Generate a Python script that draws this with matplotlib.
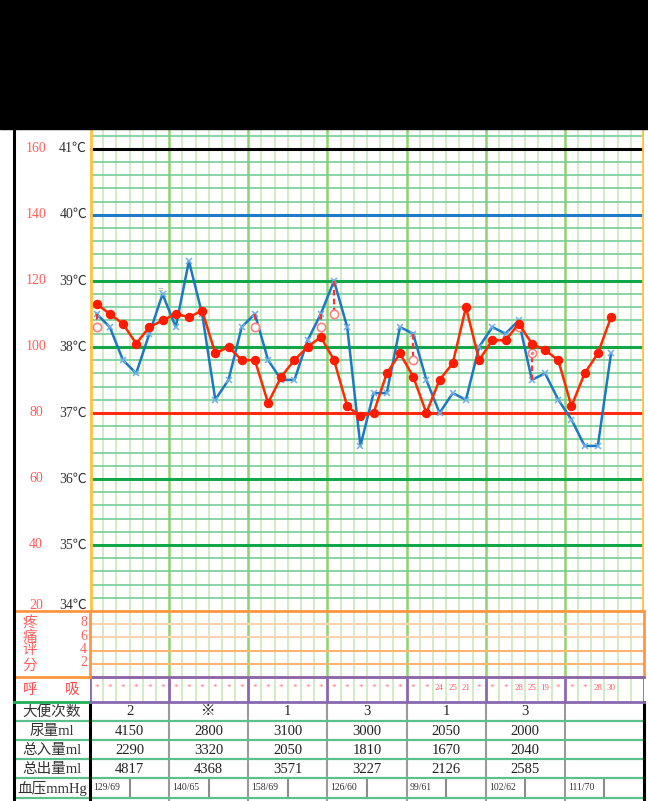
import numpy as np
import matplotlib.pyplot as plt
from matplotlib.lines import Line2D
from matplotlib.patches import Rectangle
import matplotlib.transforms as mtransforms

W, H = 648, 801
FONT = ['Liberation Serif', 'Noto Sans CJK SC', 'DejaVu Sans']
plt.rcParams['font.family'] = FONT

# ---- data ----
days = 7
cols_per_day = 6
temp = [38.5, 38.3, 37.8, 37.6, 38.2, 38.8, 38.3, 39.3, 38.5, 37.2, 37.5, 38.3, 38.5, 37.8,
        37.5, 37.5, 38.1, 38.5, 39.0, 38.3, 36.5, 37.3, 37.3, 38.3, 38.2, 37.5, 37.0, 37.3,
        37.2, 38.0, 38.3, 38.2, 38.4, 37.5, 37.6, 37.2, 36.9, 36.5, 36.5, 37.9]
pulse = [113, 110, 107, 101, 106, 108, 110, 109, 111, 98, 100, 96, 96, 83, 91, 96, 100, 103,
         96, 82, 79, 80, 92, 98, 91, 80, 90, 95, 112, 96, 102, 102, 107, 101, 99, 96, 82, 92,
         98, 109]
cool_cols = [0, 12, 17, 18, 24, 32, 33]
cool_temp = [38.3, 38.3, 38.3, 38.5, 37.8, 38.3, 37.9]
resp = ['*'] * 26 + ['24', '25', '21', '*', '*', '*', '28', '25', '19', '*', '*', '*',
                     '28', '30', '', '']
temp_ticks = [41, 40, 39, 38, 37, 36, 35, 34]
pulse_ticks = [160, 140, 120, 100, 80, 60, 40, 20]
pain_ticks = [8, 6, 4, 2]
row_labels = ['大便次数', '尿量ml', '总入量ml', '总出量ml', '血压mmHg']
stool = ['2', '※', '1', '3', '1', '3', '']
urine = ['4150', '2800', '3100', '3000', '2050', '2000', '']
intake = ['2290', '3320', '2050', '1810', '1670', '2040', '']
output = ['4817', '4368', '3571', '3227', '2126', '2585', '']
bp = ['129/69', '140/65', '158/69', '126/60', '99/61', '102/62', '111/70']


def box(x0, y0, x1, y1):
    return [x0 / W, 1 - y1 / H, (x1 - x0) / W, (y1 - y0) / H]


def fline(x0, y0, x1, y1, **kw):
    fig.add_artist(Line2D([x0 / W, x1 / W], [1 - y0 / H, 1 - y1 / H],
                          transform=fig.transFigure, **kw))


fig = plt.figure(figsize=(W / 100, H / 100), dpi=100)
ncol = days * cols_per_day
xc = np.arange(ncol) + 0.5

COL_LIGHT = '#cfeac0'
COL_DAY = '#8fd36c'
GREEN_H = '#76cd98'


def vgrid(ax):
    for i in range(1, ncol):
        if i % cols_per_day == 0:
            ax.axvline(i, color=COL_DAY, lw=1.8, zorder=1)
        else:
            ax.axvline(i, color=COL_LIGHT, lw=1.3, zorder=1)


# ---- temperature / pulse grid ----
ax = fig.add_axes(box(90, 129, 644, 611))
ax.set_xlim(0, ncol)
ax.set_ylim(34, 41.3)
ax.axis('off')
vgrid(ax)
for t in np.arange(34.2, 41.25, 0.2):
    t = round(t, 1)
    if abs(t - round(t)) < 1e-6:
        c = {41: 'black', 40: '#1f7bc6', 37: '#ff2a10'}.get(int(round(t)), '#12a84a')
        ax.axhline(t, color=c, lw=2.2, zorder=2)
    else:
        ax.axhline(t, color=GREEN_H, lw=1.2, zorder=1.5)
ax.axvline(0.05, color='#ffc43d', lw=2, zorder=3)
ax.axvline(ncol - 0.05, color='#ffc43d', lw=2, zorder=3)

tcols = xc[:len(temp)]
ax.plot(tcols, temp, color='#1c78c0', lw=1.8, zorder=5)
ax.plot(tcols, temp, ls='none', marker='x', ms=5, mew=1.1, color='#6fb0e6', zorder=6)
ax.text(xc[5] - 0.2, temp[5] + 0.07, '=', fontsize=7, color='#888888', ha='center',
        va='center', zorder=6)
for c, t in zip(cool_cols, cool_temp):
    ax.plot([xc[c], xc[c]], [temp[c], t], color='#ff3030', lw=1.6, ls=(0, (2.5, 1.5)), zorder=6)
    ax.plot(xc[c], t, marker='o', ms=6, mfc='white', mec='#ff8080', mew=1.2, zorder=6)
ax.plot(xc[cool_cols[-1]], cool_temp[-1], marker='o', ms=1.6, color='#ff8080', zorder=7)

axp = ax.twinx()
axp.set_ylim(20, 20 + 7.3 * 20)
axp.axis('off')
axp.plot(xc[:len(pulse)], pulse, color='#ff2a00', lw=1.8, marker='o', ms=5.8,
         mfc='#ff1a00', mec='#ff1a00', zorder=8)

tr = mtransforms.blended_transform_factory(fig.transFigure, ax.transData)
for t, p in zip(temp_ticks, pulse_ticks):
    off = 0.09 if t == 34 else 0
    ax.text(36 / W, t + off, str(p), transform=tr, ha='center', va='center',
            fontsize=10, color='#ff5c5c')
    ax.text(87 / W, t + off, f'{t}℃', transform=tr, ha='right', va='center',
            fontsize=10, color='#333333')

# ---- pain score ----
axn = fig.add_axes(box(90, 611, 644, 677))
axn.set_xlim(0, ncol)
axn.set_ylim(0, 10)
axn.axis('off')
vgrid(axn)
for v in pain_ticks:
    axn.axhline(v, color='#ffd2b0' if v > 5 else '#ffb473', lw=1.5, zorder=2)
trn = mtransforms.blended_transform_factory(fig.transFigure, axn.transData)
for ypos, ch in zip([8.2, 6.0, 4.0, 1.7], '疼痛评分'):
    axn.text(30 / W, ypos, ch, transform=trn, ha='center', va='center',
             fontsize=10.5, color='#ff6060')
for v in pain_ticks:
    axn.text(87 / W, v + 0.2, str(v), transform=trn, ha='right', va='center',
             fontsize=10, color='#ff6060')

# ---- respiration ----
axr = fig.add_axes(box(90, 677, 644, 702))
axr.set_xlim(0, ncol)
axr.set_ylim(0, 1)
axr.axis('off')
for i in range(1, ncol):
    if i % cols_per_day:
        axr.axvline(i, color=COL_LIGHT, lw=1.3, zorder=1)
for d in range(days + 1):
    axr.axvline(d * cols_per_day, color='#8a68b0', lw=2, zorder=2)
for x, r in zip(xc, resp):
    if r == '*':
        axr.text(x, 0.55, '*', ha='center', va='center', fontsize=6.5, color='#ff7070')
    elif r:
        axr.text(x, 0.55, r, ha='center', va='center', fontsize=6.5, color='#ff6060')
fig.text(30 / W, 1 - 690 / H, '呼', ha='center', va='center', fontsize=10.5, color='#ff4a4a')
fig.text(72 / W, 1 - 690 / H, '吸', ha='center', va='center', fontsize=10.5, color='#ff4a4a')

# ---- table ----
rh = 19.1
axt = fig.add_axes(box(90, 702, 644, 801))
axt.set_xlim(0, days)
axt.set_ylim(99 / rh, 0)
axt.axis('off')
rows = [stool, urine, intake, output]
for r, vals in enumerate(rows):
    for d, v in enumerate(vals):
        axt.text(d + 0.5, r + 0.52, v, ha='center', va='center', fontsize=10.5, color='#222222')
for d, v in enumerate(bp):
    axt.text(d + 0.04, 4.5, v, ha='left', va='center', fontsize=7, color='#333333')
    axt.plot([d + 0.5, d + 0.5], [4, 5], color='#8c8c8c', lw=1.5)
for d in range(1, days):
    axt.axvline(d, color='#9a9a9a', lw=1.5)
trt = mtransforms.blended_transform_factory(fig.transFigure, axt.transData)
for r, lab in enumerate(row_labels):
    axt.text(52 / W, r + 0.52, lab, transform=trt, ha='center', va='center',
             fontsize=10.5, color='#333333')
for r in range(1, 6):
    y = 702 + r * rh
    fline(14, y, 644, y, color='#5cc08a', lw=1.6)

# ---- frame ----
fig.add_artist(Rectangle((0, 1 - 129 / H), 1, 129 / H, transform=fig.transFigure,
                         color='black', zorder=20))
fline(14, 129, 14, 801, color='black', lw=2.2)
fline(90, 702, 90, 801, color='black', lw=2.2)
fline(644, 702, 644, 801, color='black', lw=2.2)
fline(14, 702, 90, 702, color='#1fae5a', lw=2)
fline(90, 702, 644, 702, color='#8a68b0', lw=2)
fline(90, 677, 644, 677, color='#8a68b0', lw=2)
fig.add_artist(Rectangle((14 / W, 1 - 677 / H), 630 / W, 66 / H, transform=fig.transFigure,
                         fill=False, ec='#ff9640', lw=2))
fline(90, 611, 90, 677, color='#ff9640', lw=2)

fig.savefig('out.png', dpi=100)
